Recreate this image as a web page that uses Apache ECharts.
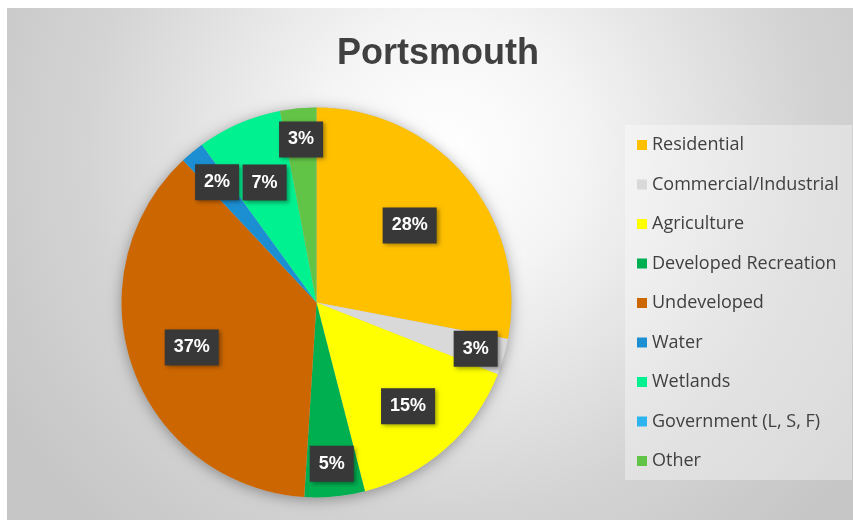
<!DOCTYPE html>
<html>
<head>
<meta charset="utf-8">
<script src="https://cdn.jsdelivr.net/npm/echarts@6/dist/echarts.min.js"></script>
<style>
html,body{margin:0;padding:0;background:#fff;}
#chart{width:853px;height:520px;}
</style>
</head>
<body>
<div id="chart"></div>
<script>
const categories = ['Residential','Commercial/Industrial','Agriculture','Developed Recreation','Undeveloped','Water','Wetlands','Government (L, S, F)','Other'];
const percents = [28, 3, 15, 5, 37, 2, 7, 0, 3];
const colors = ['#FFC000','#D9D9D9','#FFFF00','#00B050','#CC6600','#1B8FD2','#00F290','#2DB4EE','#62C446'];
// how far out (fraction of radius) each data label sits
const labelRadius = [0.62, 0.85, 0.71, 0.83, 0.68, 0.80, 0.67, 0.8, 0.84];

const CX = 316.5, CY = 302.5, R = 195;

const chart = echarts.init(document.getElementById('chart'));
const data = categories.map((name, i) => ({
  name: name,
  value: percents[i],
  itemStyle: { color: colors[i] },
  label: { show: percents[i] > 0 }
}));

chart.setOption({
  backgroundColor: '#ffffff',
  animation: false,
  graphic: [
    {
      type: 'rect', z: -10, silent: true,
      shape: { x: 7, y: 8, width: 846, height: 512 },
      style: {
        fill: new echarts.graphic.RadialGradient(0.52, 0.28, 1.0, [
          { offset: 0, color: '#ffffff' },
          { offset: 0.25, color: '#f5f5f5' },
          { offset: 0.7, color: '#d4d4d4' },
          { offset: 1, color: '#c6c6c6' }
        ])
      }
    },
    {
      type: 'rect', z: -5, silent: true,
      shape: { x: 625, y: 125, width: 227, height: 355 },
      style: { fill: 'rgba(255,255,255,0.35)' }
    }
  ],
  title: {
    text: 'Portsmouth',
    left: 337,
    top: 36,
    padding: 0,
    textStyle: {
      fontFamily: "'Liberation Sans',Arial,sans-serif",
      fontWeight: 'bold',
      fontSize: 36,
      color: '#404040'
    }
  },
  legend: {
    orient: 'vertical',
    left: 637,
    top: 135,
    padding: 0,
    itemWidth: 10,
    itemHeight: 10,
    itemGap: 19.5,
    icon: 'rect',
    data: categories,
    textStyle: {
      fontFamily: "'Open Sans','Liberation Sans',sans-serif",
      fontSize: 18,
      lineHeight: 20,
      color: '#404040'
    }
  },
  series: [
    {
      type: 'pie',
      name: 'shadow',
      silent: true,
      center: [CX, CY],
      radius: R,
      z: 1,
      label: { show: false },
      labelLine: { show: false },
      itemStyle: { color: '#bbbbbb', shadowBlur: 14, shadowColor: 'rgba(0,0,0,0.35)', shadowOffsetY: 2 },
      data: [{ value: 1, name: '_bg' }],
      legendHoverLink: false
    },
    {
      type: 'pie',
      name: 'Portsmouth',
      center: [CX, CY],
      radius: R,
      z: 2,
      startAngle: 90,
      clockwise: true,
      avoidLabelOverlap: false,
      itemStyle: { borderWidth: 0 },
      label: {
        position: 'inside',
        formatter: '{c}%',
        color: '#ffffff',
        fontFamily: "'Liberation Sans',Arial,sans-serif",
        fontWeight: 'bold',
        fontSize: 18,
        lineHeight: 18,
        backgroundColor: '#383838',
        padding: [9, 9, 9, 9],
        shadowBlur: 4,
        shadowOffsetX: 2,
        shadowOffsetY: 2,
        shadowColor: 'rgba(0,0,0,0.35)'
      },
      labelLine: { show: false },
      labelLayout: function (p) {
        const r = p.labelRect;
        const lx = r.x + r.width / 2, ly = r.y + r.height / 2;
        const vx = lx - CX, vy = ly - CY;
        const len = Math.hypot(vx, vy) || 1;
        const t = labelRadius[p.dataIndex] * R;
        return { x: CX + vx / len * t, y: CY + vy / len * t, align: 'center', verticalAlign: 'middle' };
      },
      data: data
    }
  ]
});
</script>
</body>
</html>
